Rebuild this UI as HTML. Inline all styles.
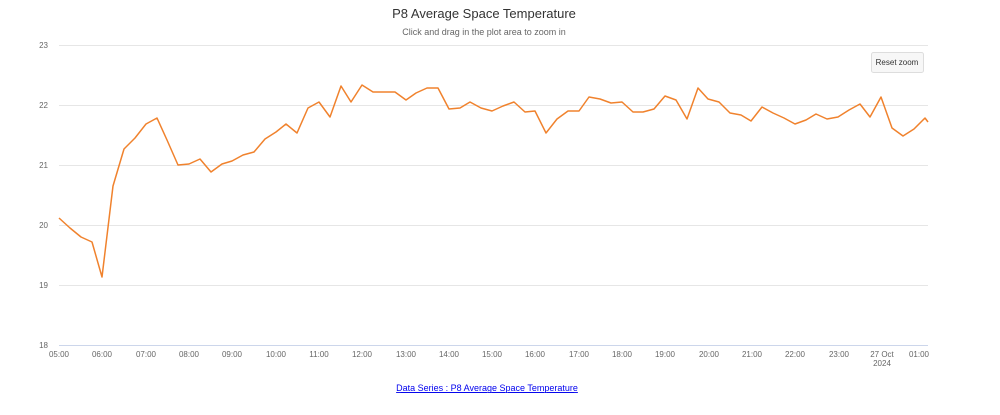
<!DOCTYPE html>
<html><head><meta charset="utf-8"><style>
body{margin:0;background:#fff;font-family:"Liberation Sans",sans-serif}
</style></head><body>
<svg width="1000" height="410" xmlns="http://www.w3.org/2000/svg" font-family="Liberation Sans, sans-serif">
<rect width="1000" height="410" fill="#fff"/>
<text x="484" y="18" text-anchor="middle" font-size="13" fill="#333">P8 Average Space Temperature</text>
<text x="484" y="35" text-anchor="middle" font-size="9" fill="#666">Click and drag in the plot area to zoom in</text>
<g stroke="#e6e6e6" stroke-width="1">
<line x1="59" x2="928" y1="45.5" y2="45.5"/>
<line x1="59" x2="928" y1="105.5" y2="105.5"/>
<line x1="59" x2="928" y1="165.5" y2="165.5"/>
<line x1="59" x2="928" y1="225.5" y2="225.5"/>
<line x1="59" x2="928" y1="285.5" y2="285.5"/>
</g>
<line x1="59" x2="928" y1="345.5" y2="345.5" stroke="#ccd6eb"/>
<g font-size="8" fill="#666" text-anchor="end">
<text x="48" y="48">23</text><text x="48" y="108">22</text><text x="48" y="168">21</text>
<text x="48" y="228">20</text><text x="48" y="288">19</text><text x="48" y="348">18</text>
</g>
<g font-size="8" fill="#666" text-anchor="middle">
<text x="59" y="357">05:00</text><text x="102" y="357">06:00</text><text x="146" y="357">07:00</text>
<text x="189" y="357">08:00</text><text x="232" y="357">09:00</text><text x="276" y="357">10:00</text>
<text x="319" y="357">11:00</text><text x="362" y="357">12:00</text><text x="406" y="357">13:00</text>
<text x="449" y="357">14:00</text><text x="492" y="357">15:00</text><text x="535" y="357">16:00</text>
<text x="579" y="357">17:00</text><text x="622" y="357">18:00</text><text x="665" y="357">19:00</text>
<text x="709" y="357">20:00</text><text x="752" y="357">21:00</text><text x="795" y="357">22:00</text>
<text x="839" y="357">23:00</text><text x="882" y="357">27 Oct</text><text x="882" y="366">2024</text>
<text x="919" y="357">01:00</text>
</g>
<rect x="871.5" y="52.5" width="52" height="20" rx="2" fill="#f7f7f7" stroke="#ddd"/>
<text x="897" y="65" text-anchor="middle" font-size="8" fill="#333">Reset zoom</text>
<polyline fill="none" stroke="#f0822d" stroke-width="1.5" stroke-linejoin="round" points="59,218 70,228 81,237 92,242 102,277 113,186 124,149 135,138 146,124 157,118 167,140 178,165 189,164 200,159 211,172 222,164 232,161 243,155 254,152 265,139 276,132 286,124 297,133 308,108 319,102 330,117 341,86 351,102 362,85 373,92 384,92 395,92 406,100 416,93 427,88 438,88 449,109 460,108 470,102 481,108 492,111 503,106 514,102 525,112 535,111 546,133 557,119 568,111 579,111 589,97 600,99 611,103 622,102 633,112 643,112 654,109 665,96 676,100 687,119 698,88 708,99 719,102 730,113 741,115 751,121 762,107 773,113 784,118 795,124 806,120 816,114 827,119 838,117 849,110 860,104 870,117 881,97 892,128 903,136 914,129 925,118 928,122"/>
<text x="487" y="391" text-anchor="middle" font-size="9" fill="#00e" text-decoration="underline">Data Series : P8 Average Space Temperature</text>
<line x1="401" x2="574" y1="392.5" y2="392.5" stroke="#00e" stroke-width="0.7"/>
</svg>
</body></html>
